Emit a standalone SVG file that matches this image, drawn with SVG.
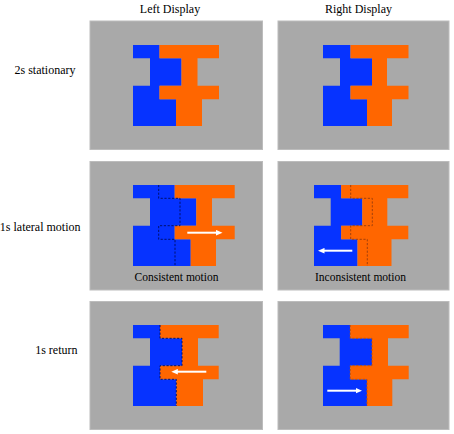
<svg xmlns="http://www.w3.org/2000/svg" width="454" height="434" viewBox="0 0 454 434">
<style>
text{font-family:"Liberation Serif","Times New Roman",serif;fill:#000}
.hd{font-size:12px;text-anchor:middle}
.rl{font-size:12px;text-anchor:end}
.cap{font-size:11.5px;text-anchor:middle}
.panel{fill:#a9a9a9;stroke:#bcbcbc;stroke-width:1}
.blue{fill:#0633ff}
.orange{fill:#ff6600}
.dashB{fill:none;stroke:#00106e;stroke-width:1;stroke-dasharray:2.2 1.6}
.dashO{fill:none;stroke:#a2400c;stroke-width:1;stroke-dasharray:2.2 1.6}
.dashO2{fill:none;stroke:#c85000;stroke-width:1;stroke-dasharray:2.2 1.6}
.arr{fill:none;stroke:#fff;stroke-width:2;marker-end:url(#ah)}
</style>
<defs>
<marker id="ah" markerUnits="userSpaceOnUse" markerWidth="7" markerHeight="6" refX="2" refY="2.8" orient="auto">
<path d="M0,0 L6.5,2.8 L0,5.6 Z" fill="#fff"/>
</marker>
</defs>
<rect width="454" height="434" fill="#fff"/>

<g id="headers">
<text class="hd" x="170" y="12.5">Left Display</text>
<text class="hd" x="358.5" y="12.5">Right Display</text>
</g>
<g id="row-labels">
<text class="rl" x="75.5" y="74">2s stationary</text>
<text class="rl" x="80.5" y="231">1s lateral motion</text>
<text class="rl" x="77.5" y="354">1s return</text>
</g>

<!-- Row 1 -->
<g id="r1-left">
<rect class="panel" x="90" y="21" width="172.5" height="128.5"/>
<path class="blue" d="M133,45 H159.5 V58.3 H181.5 V85.7 H159.5 V99.3 H176 V126 H133 V85.7 H150 V58.3 H133 Z"/>
<path class="orange" d="M159.5,45 H219 V58.3 H197.5 V85.7 H219 V99.3 H202 V126 H176 V99.3 H159.5 V85.7 H181.5 V58.3 H159.5 Z"/>
</g>
<g id="r1-right">
<rect class="panel" x="278" y="21" width="171" height="128.5"/>
<path class="blue" d="M323,45 H350.5 V58.3 H372 V85.7 H350.5 V99.3 H367 V126 H323 V85.7 H340 V58.3 H323 Z"/>
<path class="orange" d="M350.5,45 H408.5 V58.3 H387 V85.7 H408.5 V99.3 H392 V126 H367 V99.3 H350.5 V85.7 H372 V58.3 H350.5 Z"/>
</g>

<!-- Row 2 -->
<g id="r2-left">
<rect class="panel" x="90" y="161.5" width="172.5" height="128.5"/>
<path class="blue" d="M133,185 H174.7 V198.3 H196.3 V225.7 H174.7 V239.3 H190.7 V266 H133 V225.7 H150 V198.3 H133 Z"/>
<path class="orange" d="M174.7,185 H234.7 V198.3 H212 V225.7 H234.7 V239.3 H216 V266 H190.7 V239.3 H174.7 V225.7 H196.3 V198.3 H174.7 Z"/>
<path class="dashB" d="M158.7,185 V198.3 H180 V225.7 H158.7 V239.3 H175 V266"/>
<path class="arr" d="M187.3,232.7 H218"/>
<text class="cap" x="176.5" y="281">Consistent motion</text>
</g>
<g id="r2-right">
<rect class="panel" x="278" y="161.5" width="171" height="128.5"/>
<path class="blue" d="M314,185 H341.2 V198.3 H362.3 V225.7 H341.2 V239.3 H357.5 V266 H314 V225.7 H330.7 V198.3 H314 Z"/>
<path class="orange" d="M341.2,185 H408.3 V198.3 H387.3 V225.7 H408.3 V239.3 H391.5 V266 H357.5 V239.3 H341.2 V225.7 H362.3 V198.3 H341.2 Z"/>
<path class="dashO" d="M350.7,185 V198.3 H372.3 V225.7 H350.7 V239.3 H367.3 V266"/>
<path class="arr" d="M352.3,250.7 H322.5"/>
<text class="cap" x="360.5" y="281">Inconsistent motion</text>
</g>

<!-- Row 3 -->
<g id="r3-left">
<rect class="panel" x="90" y="301.5" width="172.5" height="128"/>
<path class="blue" d="M133,325 H160 V338.3 H182 V365.7 H160 V379.3 H176.3 V406 H133 V365.7 H150 V338.3 H133 Z"/>
<path class="orange" d="M160,325 H218.7 V338.3 H198 V365.7 H218.7 V379.3 H203 V406 H176.3 V379.3 H160 V365.7 H182 V338.3 H160 Z"/>
<path class="dashB" d="M160,325 V338.3 H182 V365.7 H160 V379.3 H176.3 V406"/>
<path class="arr" d="M206.3,371.7 H175.8"/>
</g>
<g id="r3-right">
<rect class="panel" x="278" y="301.5" width="171" height="128"/>
<path class="blue" d="M323,325 H350.3 V338.3 H372 V365.7 H350.3 V379.3 H367 V406 H323 V365.7 H339.7 V338.3 H323 Z"/>
<path class="orange" d="M350.3,325 H408.7 V338.3 H388 V365.7 H408.7 V379.3 H392.3 V406 H367 V379.3 H350.3 V365.7 H372 V338.3 H350.3 Z"/>
<path class="dashO2" d="M350.3,325 V338.3 H372 V365.7 H350.3 V379.3 H367 V406"/>
<path class="arr" d="M327.3,390.7 H357.5"/>
</g>
</svg>
